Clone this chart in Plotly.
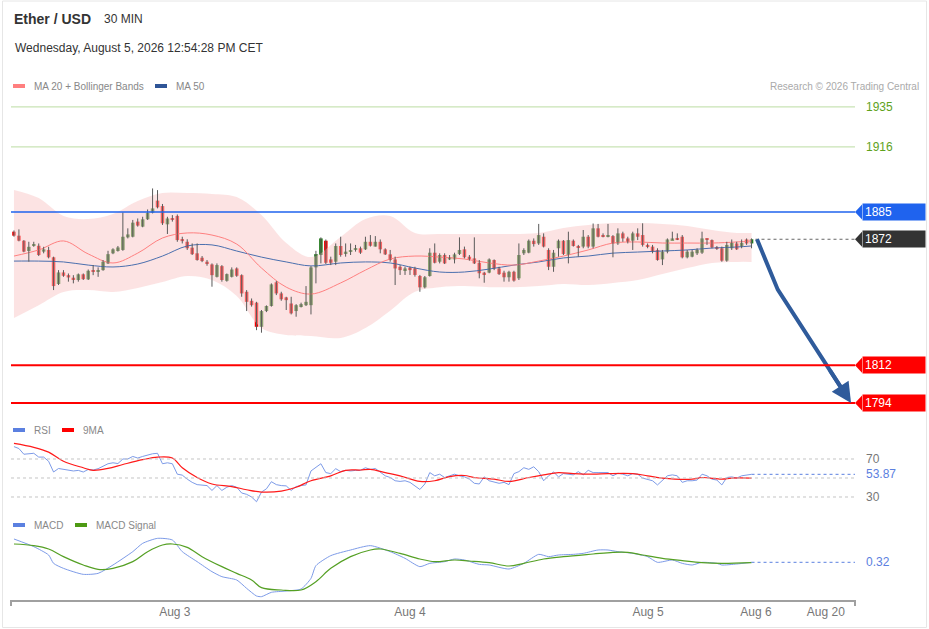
import plotly.graph_objects as go

W, H = 929, 629
FONT = "Liberation Sans, Arial, sans-serif"

# 30 min candles, oldest first
opens = [1875.6, 1873.7, 1871.3, 1866.4, 1868.8, 1868.9, 1866.1, 1866.9, 1863.4, 1850.7,
         1856.2, 1854.9, 1853.7, 1852.6, 1855.3, 1852.9, 1857.0, 1856.5, 1857.3, 1860.5,
         1865.3, 1866.4, 1866.9, 1872.9, 1873.2, 1880.4, 1878.0, 1881.5, 1884.6, 1890.4,
         1887.8, 1879.1, 1881.9, 1883.1, 1872.1, 1870.8, 1868.0, 1865.3, 1863.2, 1861.3,
         1860.0, 1854.1, 1859.2, 1852.2, 1854.1, 1858.1, 1854.9, 1847.0, 1842.7, 1841.8,
         1830.3, 1837.8, 1840.2, 1851.5, 1846.2, 1844.3, 1841.4, 1837.8, 1840.2, 1840.6,
         1840.6, 1858.6, 1864.5, 1871.3, 1862.4, 1861.3, 1868.8, 1865.3, 1866.1, 1866.9,
         1867.7, 1867.2, 1870.8, 1868.5, 1870.8, 1867.2, 1864.8, 1862.4, 1858.9, 1857.3,
         1858.5, 1858.1, 1854.5, 1849.1, 1854.5, 1865.6, 1861.3, 1864.5, 1862.4, 1862.4,
         1865.0, 1867.2, 1863.7, 1862.9, 1860.8, 1856.1, 1856.1, 1862.1, 1858.1, 1856.1,
         1853.9, 1856.5, 1853.4, 1865.3, 1865.6, 1871.3, 1870.0, 1873.2, 1866.9, 1858.9,
         1867.7, 1871.3, 1864.5, 1871.3, 1868.8, 1868.5, 1873.2, 1868.5, 1877.2, 1873.5,
         1873.2, 1873.5, 1870.0, 1874.8, 1872.4, 1871.3, 1874.8, 1874.0, 1869.3, 1868.5,
         1866.9, 1862.4, 1866.1, 1871.6, 1872.4, 1873.2, 1863.4, 1863.7, 1865.3, 1865.6,
         1872.0, 1871.6, 1868.1, 1867.7, 1861.8, 1867.7, 1870.0, 1868.5, 1871.9, 1870.0]
highs = [1876.2, 1876.7, 1871.6, 1870.8, 1870.8, 1870.0, 1868.4, 1868.4, 1863.7, 1857.3,
         1857.3, 1855.7, 1854.9, 1855.7, 1855.7, 1857.6, 1859.7, 1858.6, 1862.1, 1866.5,
         1867.7, 1868.8, 1884.8, 1877.2, 1881.2, 1881.9, 1882.7, 1886.2, 1896.2, 1895.4,
         1888.8, 1882.7, 1883.5, 1883.8, 1873.2, 1872.0, 1870.0, 1870.0, 1864.0, 1862.1,
         1860.5, 1860.5, 1859.7, 1855.7, 1858.6, 1858.6, 1855.3, 1847.8, 1843.8, 1842.2,
         1838.3, 1840.5, 1851.0, 1852.1, 1847.0, 1844.6, 1844.6, 1841.1, 1841.8, 1849.7,
         1859.2, 1866.5, 1872.9, 1871.9, 1863.7, 1870.0, 1873.2, 1870.0, 1870.0, 1869.3,
         1868.5, 1873.2, 1874.0, 1873.5, 1871.9, 1867.7, 1866.9, 1863.7, 1859.7, 1858.9,
         1858.9, 1858.9, 1855.0, 1854.5, 1867.7, 1870.0, 1865.3, 1865.3, 1864.5, 1865.6,
         1872.9, 1868.5, 1864.5, 1872.9, 1862.1, 1856.5, 1862.9, 1862.4, 1858.9, 1857.0,
         1857.0, 1857.0, 1870.0, 1867.7, 1871.9, 1872.4, 1879.3, 1874.8, 1867.7, 1866.9,
         1871.9, 1871.6, 1875.6, 1871.9, 1869.3, 1876.4, 1874.0, 1879.5, 1879.3, 1874.8,
         1879.3, 1874.0, 1877.2, 1875.6, 1873.2, 1875.6, 1877.2, 1879.6, 1870.0, 1869.3,
         1867.7, 1866.9, 1872.4, 1875.6, 1874.8, 1874.0, 1866.9, 1866.9, 1867.7, 1875.6,
         1872.4, 1871.9, 1868.8, 1868.5, 1870.8, 1871.9, 1870.8, 1871.9, 1872.4, 1872.4]
lows = [1873.2, 1871.0, 1865.8, 1861.3, 1868.4, 1864.0, 1865.3, 1862.9, 1847.8, 1850.2,
        1854.1, 1851.8, 1851.0, 1851.8, 1852.6, 1852.6, 1854.9, 1854.1, 1857.0, 1860.2,
        1864.9, 1866.1, 1866.5, 1872.4, 1872.9, 1878.0, 1877.7, 1881.2, 1884.3, 1886.7,
        1878.8, 1874.5, 1880.4, 1870.8, 1870.0, 1866.9, 1864.5, 1861.8, 1861.1, 1859.4,
        1849.4, 1853.8, 1851.8, 1851.8, 1853.8, 1854.1, 1844.6, 1837.8, 1839.9, 1828.7,
        1827.5, 1837.3, 1839.9, 1845.4, 1842.7, 1838.3, 1836.2, 1835.1, 1839.5, 1840.2,
        1836.2, 1851.0, 1860.5, 1860.2, 1859.7, 1859.7, 1863.7, 1863.7, 1864.5, 1866.1,
        1865.0, 1866.9, 1868.5, 1868.5, 1865.3, 1864.5, 1861.3, 1850.2, 1855.0, 1855.0,
        1855.0, 1854.2, 1847.0, 1848.6, 1854.2, 1860.5, 1860.5, 1860.2, 1862.1, 1860.5,
        1864.5, 1862.9, 1861.8, 1860.2, 1853.4, 1851.3, 1855.8, 1857.3, 1855.0, 1851.8,
        1851.8, 1851.8, 1852.6, 1864.5, 1865.3, 1868.5, 1869.3, 1868.1, 1857.3, 1856.5,
        1863.7, 1864.5, 1860.5, 1868.5, 1863.7, 1867.7, 1867.7, 1867.7, 1872.9, 1872.9,
        1872.9, 1863.4, 1869.3, 1870.8, 1870.0, 1866.9, 1871.6, 1868.5, 1867.7, 1865.3,
        1861.8, 1859.7, 1865.3, 1871.6, 1871.6, 1862.9, 1862.9, 1863.4, 1864.5, 1865.0,
        1869.3, 1867.7, 1866.9, 1861.3, 1861.3, 1866.9, 1866.9, 1867.7, 1869.3, 1867.7]
closes = [1873.7, 1871.3, 1866.1, 1868.4, 1869.2, 1864.5, 1867.2, 1863.4, 1849.7, 1856.2,
          1854.6, 1853.8, 1852.9, 1855.3, 1853.0, 1857.0, 1856.5, 1857.3, 1861.3, 1864.9,
          1867.2, 1868.1, 1873.2, 1874.3, 1879.9, 1878.5, 1881.5, 1884.6, 1886.7, 1887.2,
          1879.6, 1881.9, 1881.2, 1871.6, 1871.1, 1867.7, 1864.9, 1862.1, 1861.6, 1860.2,
          1854.9, 1859.7, 1852.6, 1855.4, 1857.6, 1854.6, 1846.2, 1842.2, 1840.6, 1830.3,
          1837.8, 1840.2, 1850.5, 1846.2, 1843.4, 1843.0, 1836.7, 1840.6, 1841.1, 1842.2,
          1858.6, 1864.9, 1872.4, 1860.8, 1860.8, 1868.8, 1864.5, 1866.1, 1866.5, 1867.2,
          1865.6, 1870.8, 1868.9, 1870.8, 1867.2, 1864.8, 1862.1, 1858.1, 1857.3, 1858.1,
          1857.3, 1855.0, 1849.1, 1853.9, 1865.6, 1860.8, 1864.5, 1860.5, 1863.4, 1864.8,
          1866.9, 1863.4, 1862.4, 1860.5, 1855.8, 1855.4, 1862.4, 1858.1, 1855.4, 1853.9,
          1856.5, 1852.3, 1864.5, 1866.9, 1871.3, 1869.7, 1874.0, 1868.5, 1858.9, 1865.6,
          1871.3, 1865.0, 1871.6, 1868.8, 1868.1, 1873.2, 1868.5, 1877.2, 1873.2, 1873.2,
          1873.5, 1870.0, 1874.8, 1872.4, 1870.8, 1874.8, 1873.2, 1869.3, 1868.5, 1866.1,
          1862.1, 1866.1, 1871.9, 1872.4, 1871.9, 1863.4, 1866.1, 1866.1, 1866.9, 1872.4,
          1871.8, 1868.1, 1867.4, 1861.8, 1869.3, 1870.3, 1867.2, 1870.3, 1870.0, 1872.0]

# moving averages and bollinger bands, read at a subset of candles
ind_idx = [0, 5, 10, 15, 20, 25, 30, 35, 40, 45, 50, 55, 60, 66, 71, 76, 81, 86, 91, 96,
           101, 106, 111, 116, 121, 126, 131, 136, 141, 146, 149]
ma20 = [1864.0, 1866.9, 1871.2, 1865.0, 1860.7, 1865.4, 1872.6, 1875.0, 1874.0, 1869.7,
        1858.3, 1849.2, 1845.9, 1851.2, 1857.3, 1862.6, 1864.0, 1863.5, 1862.6, 1860.7,
        1859.7, 1861.6, 1864.0, 1866.9, 1870.2, 1870.7, 1870.2, 1870.2, 1870.2, 1870.7, 1871.2]
ma50 = [1861.6, 1861.6, 1861.2, 1859.7, 1858.8, 1860.2, 1864.0, 1868.8, 1869.3, 1866.4,
        1863.5, 1861.2, 1859.3, 1860.7, 1861.2, 1860.7, 1858.3, 1856.4, 1856.4, 1857.8,
        1859.7, 1861.2, 1863.1, 1864.0, 1865.4, 1865.9, 1866.4, 1866.9, 1867.8, 1868.3, 1868.8]
bb_upper = [1895.5, 1891.6, 1883.1, 1881.6, 1884.0, 1890.2, 1894.0, 1894.0, 1893.6, 1892.1,
            1883.5, 1870.2, 1863.5, 1873.1, 1881.6, 1883.1, 1875.0, 1874.5, 1874.5, 1874.5,
            1874.5, 1875.0, 1877.4, 1878.8, 1879.7, 1879.7, 1879.3, 1878.3, 1876.4, 1875.0, 1875.0]
bb_lower = [1834.5, 1840.6, 1846.9, 1847.8, 1846.9, 1848.8, 1851.6, 1854.5, 1852.6, 1845.0,
            1829.7, 1826.4, 1825.9, 1825.0, 1829.7, 1838.0, 1847.0, 1849.2, 1849.7, 1849.2,
            1849.2, 1849.7, 1850.7, 1850.2, 1851.2, 1852.6, 1855.5, 1858.3, 1860.7, 1861.2, 1861.2]

rsi = [83, 81, 75, 75.5, 76, 72, 72, 67.6, 56.3, 60, 59, 58, 57.4, 58, 56.3, 59, 58.4, 59.8,
       62.5, 65, 66, 65.2, 70, 70, 72.7, 71, 72.7, 74.4, 75.5, 76, 65, 66, 65, 54, 53, 48.8,
       45.4, 43, 42.7, 42, 36.9, 42, 36.9, 40.3, 42, 40.3, 34.2, 32.8, 30, 25, 35.2, 38.6,
       46.1, 43, 42, 41.7, 36.9, 41, 42, 42.7, 57.4, 60.8, 65, 55.7, 54.6, 59.8, 56.7, 58,
       57.4, 58, 58, 60.8, 59, 60, 55.7, 52.3, 50.5, 47.1, 46.4, 47.1, 45.4, 42, 37.9, 43.7,
       55.7, 52.3, 54, 50.5, 52.3, 54, 52.3, 51.2, 48.8, 44.4, 43.7, 51.2, 47.1, 45.4, 44.4,
       45.4, 43.0, 54.6, 56.7, 60.8, 59.1, 61.8, 56.7, 47.1, 52.3, 56.3, 51.2, 54.6, 54.0,
       53.3, 56.7, 53.3, 58.1, 55.7, 55.7, 55.7, 55.7, 52.3, 55.0, 54.0, 52.3, 54.6, 54.0,
       49.9, 48.8, 47.1, 42.7, 47.8, 52.3, 53.3, 52.3, 45.4, 47.1, 47.1, 47.8, 54.0, 52.3,
       48.8, 47.8, 42.7, 50.5, 51.2, 49.9, 52.3, 53.3, 53.87]
rsi_ma_idx = [0, 4, 7, 10, 14, 16, 19, 22, 26, 29, 32, 34, 37, 40, 44, 47, 50, 54, 57, 60,
              64, 67, 70, 72, 75, 78, 82, 85, 88, 91, 93, 97, 100, 104, 107, 110, 113, 117,
              120, 125, 128, 131, 137, 139, 143, 145, 149]
rsi_ma = [86.4, 82.3, 77.2, 67.6, 60.8, 58.1, 60.1, 64.2, 69.3, 72, 71, 60.8, 50.5, 43.7, 41,
          37.6, 35.2, 36.2, 40.3, 47.1, 52.3, 58.1, 58.4, 59.1, 55.7, 52.3, 46.4, 47.1, 51.5,
          52.6, 50.5, 48.8, 46.4, 50.5, 53.3, 55.7, 54.6, 54, 54.6, 54.6, 52.3, 49.9, 48.8,
          50.5, 48.8, 49.9, 49.9]
rsi_levels = [70, 50, 30]
rsi_labels = [70, 30]

macd_idx = [0, 4, 7, 8, 10, 14, 17, 20, 24, 26, 29, 32, 34, 37, 40, 42, 45, 47, 49, 50,
            52, 55, 58, 60, 61, 64, 68, 72, 76, 79, 82, 84, 87, 89, 91, 94, 96, 100, 103, 106,
            108, 110, 113, 115, 118, 120, 122, 125, 128, 130, 133, 135, 137, 139, 142, 143, 146, 149]
macd = [4.98, 3.45, 1.78, 0.11, -0.89, -2.09, -1.89, -0.22, 2.45, 4.11,
        5.11, 4.78, 2.45, 0.45, -1.55, -2.55, -3.22, -4.89, -6.42, -6.55,
        -5.69, -5.42, -5.02, -2.89, -0.35, 1.65, 2.78, 3.65, 2.45, 1.11,
        -0.55, 0.11, 0.45, 0.98, 0.78, -0.09, -0.22, -1.02, 0.11, 1.91,
        1.45, 1.78, 1.91, 2.11, 2.78, 2.78, 2.45, 2.11, 1.45, 0.31,
        0.78, 0.11, -0.22, 0.31, 0.11, -0.22, -0.02, 0.32]
signal_idx = [0, 4, 7, 10, 14, 17, 20, 24, 27, 30, 32, 35, 38, 42, 45, 48, 50, 54, 58, 61,
              64, 68, 72, 74, 78, 82, 85, 89, 92, 96, 100, 103, 107, 111, 117, 121, 124, 127,
              131, 135, 139, 143, 149]
signal = [3.98, 3.65, 2.98, 1.45, -0.22, -1.09, -0.89, 0.45, 2.45, 3.78,
          3.98, 3.31, 1.45, -0.55, -1.89, -3.22, -4.75, -5.22, -5.22, -3.55,
          -0.89, 1.45, 2.78, 2.98, 2.11, 0.98, 0.45, 0.78, 0.58, 0.25,
          -0.42, 0.11, 0.98, 1.45, 1.98, 2.31, 2.31, 1.78, 1.11, 0.65,
          0.25, 0.11, 0.25]

levels_target = [1935, 1916]
level_resist = 1885
levels_support = [1812, 1794]
last_price = 1872

forecast_idx = [150.1, 154.3, 169.1]
forecast_px = [1872, 1848, 1794]

tick_idx = [32.5, 80, 128.1, 149.9, 164]
tick_text = ["Aug 3", "Aug 4", "Aug 5", "Aug 6", "Aug 20"]

X_RANGE = [-0.6, 169.9]
P_RANGE = [1788.3, 1940.7]
RSI_RANGE = [14.2, 92.1]
MACD_RANGE = [-7.22, 5.78]


def fx(p):
    return p / W


def fy(p):
    return 1 - p / H


def text(fig, x, y, s, size=10, color="#888", anchor="left", bold=False, yref="paper"):
    if bold:
        s = "<b>" + s + "</b>"
    fig.add_annotation(x=fx(x), y=fy(y) if yref == "paper" else y, xref="paper", yref=yref,
                       text=s, showarrow=False, xanchor=anchor, yanchor="middle",
                       font=dict(family=FONT, size=size, color=color))


def swatch(fig, x, y, color):
    fig.add_shape(type="rect", xref="paper", yref="paper", x0=fx(x), x1=fx(x + 12),
                  y0=fy(y + 2), y1=fy(y - 2), fillcolor=color, line_width=0)


def tag(fig, level, label, color):
    dy = 7.5 * (P_RANGE[1] - P_RANGE[0]) / 320
    fig.add_shape(type="path", xref="paper", yref="y",
                  path=f"M {fx(855)},{level} L {fx(862)},{level + dy} L {fx(862)},{level - dy} Z",
                  fillcolor=color, line_width=0)
    fig.add_annotation(x=fx(862), y=level, xref="paper", yref="y", text=label,
                       showarrow=False, xanchor="left", yanchor="middle", align="left",
                       bgcolor=color, width=58, height=12, borderpad=2,
                       font=dict(family=FONT, size=12, color="white"))


def main():
    n = len(closes)
    idx = list(range(n))
    fig = go.Figure()

    # bollinger band fill
    fig.add_trace(go.Scatter(x=ind_idx, y=bb_upper, mode="lines", line=dict(width=0, shape="spline"),
                             hoverinfo="skip"))
    fig.add_trace(go.Scatter(x=ind_idx, y=bb_lower, mode="lines", line=dict(width=0, shape="spline"),
                             fill="tonexty", fillcolor="rgba(250,200,200,0.5)", hoverinfo="skip"))

    # levels
    for lv in levels_target:
        fig.add_shape(type="line", xref="x domain", yref="y", x0=0, x1=1, y0=lv, y1=lv,
                      line=dict(color="#c9e3b5", width=1.2))
        text(fig, 864, lv, str(lv), size=12, color="#5ea21c", yref="y")
    fig.add_shape(type="line", xref="x domain", yref="y", x0=0, x1=1, y0=level_resist, y1=level_resist,
                  line=dict(color="#1f63ee", width=1.5))
    for lv in levels_support:
        fig.add_shape(type="line", xref="x domain", yref="y", x0=0, x1=1, y0=lv, y1=lv,
                      line=dict(color="#ff0000", width=2))

    fig.add_trace(go.Scatter(x=ind_idx, y=ma50, mode="lines",
                             line=dict(color="#4a6fae", width=1, shape="spline")))
    fig.add_trace(go.Scatter(x=ind_idx, y=ma20, mode="lines",
                             line=dict(color="#ff8080", width=1, shape="spline")))

    # candles: wicks then bodies
    wx, wy = [], []
    for i in idx:
        wx += [i, i, None]
        wy += [lows[i], highs[i], None]
    fig.add_trace(go.Scatter(x=wx, y=wy, mode="lines", line=dict(color="#5a5a5a", width=1),
                             hoverinfo="skip"))
    base = [min(o, c) for o, c in zip(opens, closes)]
    body = [max(abs(c - o), 0.5) for o, c in zip(opens, closes)]
    colors = ["#237a1d" if c >= o else "#f50000" for o, c in zip(opens, closes)]
    fig.add_trace(go.Bar(x=idx, y=body, base=base, width=0.72, marker_color=colors,
                         marker_line_width=0))

    # last price dotted line and forecast arrow
    fig.add_trace(go.Scatter(x=[n - 1 + 0.8, X_RANGE[1]], y=[last_price, last_price], mode="lines",
                             line=dict(color="#666", width=1, dash="dot")))
    arrow_color = "#2f5b9b"
    fig.add_trace(go.Scatter(x=forecast_idx[:-1] + [forecast_idx[-1] - 0.12 * (forecast_idx[-1] - forecast_idx[-2])],
                             y=forecast_px[:-1] + [forecast_px[-1] - 0.12 * (forecast_px[-1] - forecast_px[-2])],
                             mode="lines", line=dict(color=arrow_color, width=4)))
    fig.add_annotation(x=forecast_idx[-1], y=forecast_px[-1],
                       ax=forecast_idx[-1] - 0.3 * (forecast_idx[-1] - forecast_idx[-2]),
                       ay=forecast_px[-1] - 0.3 * (forecast_px[-1] - forecast_px[-2]),
                       xref="x", yref="y", axref="x", ayref="y", text="", showarrow=True,
                       arrowhead=2, arrowsize=1, arrowwidth=4, arrowcolor=arrow_color)

    tag(fig, level_resist, str(level_resist), "#1f63ee")
    tag(fig, last_price, str(last_price), "#333333")
    for lv in levels_support:
        tag(fig, lv, str(lv), "#ff0000")

    # RSI panel
    for lv in rsi_levels:
        fig.add_shape(type="line", xref="x2 domain", yref="y2", x0=0, x1=1, y0=lv, y1=lv,
                      line=dict(color="#c4c4c4", width=1, dash="dot"))
    for lv in rsi_labels:
        text(fig, 864, lv, str(lv), size=12, color="#777", yref="y2")
    fig.add_trace(go.Scatter(x=idx, y=rsi, mode="lines", line=dict(color="#7d9be8", width=1),
                             xaxis="x2", yaxis="y2"))
    fig.add_trace(go.Scatter(x=rsi_ma_idx, y=rsi_ma, mode="lines",
                             line=dict(color="#ff1a1a", width=1.2, shape="spline"),
                             xaxis="x2", yaxis="y2"))
    fig.add_trace(go.Scatter(x=[n - 1, X_RANGE[1]], y=[rsi[-1], rsi[-1]], mode="lines",
                             line=dict(color="#5b80e0", width=1, dash="dot"), xaxis="x2", yaxis="y2"))
    text(fig, 864, rsi[-1], f"{rsi[-1]:.2f}", size=12, color="#5b80e0", yref="y2")

    # MACD panel
    fig.add_trace(go.Scatter(x=macd_idx, y=macd, mode="lines",
                             line=dict(color="#7d9be8", width=1, shape="spline", smoothing=0.6),
                             xaxis="x3", yaxis="y3"))
    fig.add_trace(go.Scatter(x=signal_idx, y=signal, mode="lines",
                             line=dict(color="#55a024", width=1.2, shape="spline"),
                             xaxis="x3", yaxis="y3"))
    fig.add_trace(go.Scatter(x=[n - 1, X_RANGE[1]], y=[macd[-1], macd[-1]], mode="lines",
                             line=dict(color="#5b80e0", width=1, dash="dot"), xaxis="x3", yaxis="y3"))
    text(fig, 864, macd[-1], f"{macd[-1]:.2f}", size=12, color="#5b80e0", yref="y3")
    for xd in (0, 1):
        fig.add_shape(type="line", xref="x3 domain", yref="paper", x0=xd, x1=xd,
                      y0=fy(600), y1=fy(606), line=dict(color="#a0a0a0", width=2))

    # header and legends
    text(fig, 12, 19, "Ether / USD", size=14, color="#333", bold=True)
    text(fig, 102, 19, "30 MIN", size=12, color="#333")
    text(fig, 13, 48, "Wednesday, August 5, 2026 12:54:28 PM CET", size=12, color="#333")
    swatch(fig, 13, 86, "#ff7f7f")
    text(fig, 32, 86, "MA 20 + Bollinger Bands")
    swatch(fig, 155, 86, "#2f5597")
    text(fig, 174, 86, "MA 50")
    text(fig, 921, 86, "Research © 2026 Trading Central", color="#aaa", anchor="right")
    swatch(fig, 13, 430, "#5b80e0")
    text(fig, 32, 430, "RSI")
    swatch(fig, 62, 430, "#ff0000")
    text(fig, 81, 430, "9MA")
    swatch(fig, 13, 525, "#5b80e0")
    text(fig, 32, 525, "MACD")
    swatch(fig, 75, 525, "#4d9a13")
    text(fig, 94, 525, "MACD Signal")

    fig.add_shape(type="rect", xref="paper", yref="paper", x0=fx(2.5), x1=fx(926.5),
                  y0=fy(627.5), y1=fy(1), line=dict(color="#e6e6e6", width=1))

    hidden = dict(visible=False, range=X_RANGE, domain=[fx(11), fx(855)])
    fig.update_layout(
        width=W, height=H, margin=dict(l=0, r=0, t=0, b=0),
        paper_bgcolor="white", plot_bgcolor="white", showlegend=False,
        xaxis=dict(hidden, anchor="y"),
        xaxis2=dict(hidden, anchor="y2"),
        xaxis3=dict(range=X_RANGE, domain=[fx(11), fx(855)], anchor="y3",
                    showline=True, linecolor="#a0a0a0", linewidth=2, showgrid=False,
                    zeroline=False, ticks="", tickvals=tick_idx, ticktext=tick_text,
                    tickfont=dict(family=FONT, size=12, color="#777")),
        yaxis=dict(visible=False, range=P_RANGE, domain=[fy(415), fy(95)]),
        yaxis2=dict(visible=False, range=RSI_RANGE, domain=[fy(512), fy(438)]),
        yaxis3=dict(visible=False, range=MACD_RANGE, domain=[fy(600), fy(535)]),
    )
    fig.write_html("out.html", config={"displayModeBar": False},
                   post_script="document.body.style.margin='0px';")


if __name__ == "__main__":
    main()
